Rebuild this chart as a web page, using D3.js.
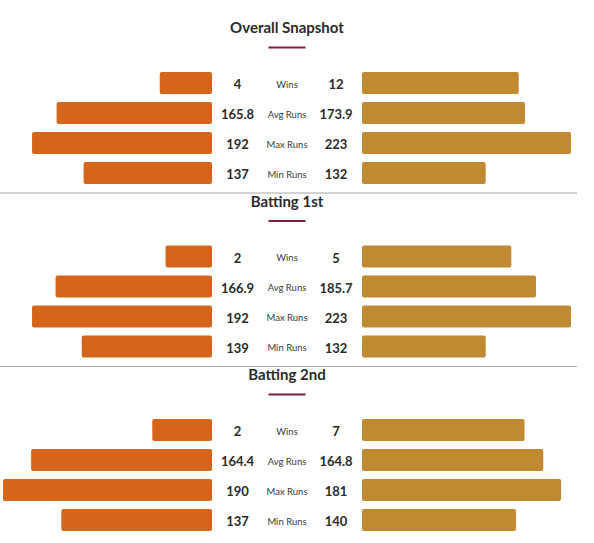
<!DOCTYPE html>
<html>
<head>
<meta charset="utf-8">
<script src="https://cdn.jsdelivr.net/npm/d3@7"></script>
<style>
  body { margin: 0; background: #fff; }
  svg { display: block; font-family: Lato, "Open Sans", sans-serif; }
</style>
</head>
<body>
<div id="chart"></div>
<script>
var sections = ["Overall Snapshot", "Batting 1st", "Batting 2nd"];
var metrics = ["Wins", "Avg Runs", "Max Runs", "Min Runs"];

// per section: wins, avg runs, max runs, min runs
var teamA = [[4, 165.8, 192, 137], [2, 166.9, 192, 139], [2, 164.4, 190, 137]];
var teamB = [[12, 173.9, 223, 132], [5, 185.7, 223, 132], [7, 164.8, 181, 140]];
// matches played, wins bar is drawn as share of these
var matchesA = [16, 9, 7];
var matchesB = [16, 7, 9];

var width = 594;
var height = 543;
var centerX = 287;
var leftEnd = 212;
var rightStart = 362;
var barMax = 209;
var barH = 22;
var rowStep = 30;
var sectionStep = 173.5;
var firstRow = 72;

var colorA = "#d4651a";
var colorB = "#c08a32";

var svg = d3.select("#chart").append("svg")
  .attr("width", width)
  .attr("height", height);

var rowY = d3.scaleBand()
  .domain(metrics)
  .range([0, rowStep * (metrics.length - 1) + barH])
  .paddingInner((rowStep - barH) / rowStep)
  .paddingOuter(0);

sections.forEach(function (name, s) {
  var top = firstRow + s * sectionStep;
  var g = svg.append("g").attr("transform", `translate(0, ${top})`);

  /* divider above every section but the first */
  if (s > 0) {
    svg.append("line")
      .attr("x1", 0).attr("x2", 577)
      .attr("y1", top - 52.5).attr("y2", top - 52.5)
      .style("stroke", "#a8a8a8")
      .style("stroke-width", 1.2);
  }

  g.append("text")
    .attr("x", centerX)
    .attr("y", -45)
    .attr("text-anchor", "middle")
    .attr("dominant-baseline", "central")
    .style("font-size", "15px")
    .style("font-weight", "bold")
    .style("fill", "#2b2b2b")
    .text(name);

  g.append("line")
    .attr("x1", centerX - 18.5).attr("x2", centerX + 18.5)
    .attr("y1", -24.5).attr("y2", -24.5)
    .style("stroke", "#7b1f3f")
    .style("stroke-width", 2);

  var runsMax = d3.max(teamA[s].slice(1).concat(teamB[s].slice(1)));
  var runScale = d3.scaleLinear().domain([0, runsMax]).range([0, barMax]);
  var winScale = d3.scaleLinear().domain([0, 1]).range([0, barMax]);

  var rows = metrics.map(function (m, i) {
    return {
      metric: m,
      a: teamA[s][i],
      b: teamB[s][i],
      wa: i === 0 ? winScale(teamA[s][i] / matchesA[s]) : runScale(teamA[s][i]),
      wb: i === 0 ? winScale(teamB[s][i] / matchesB[s]) : runScale(teamB[s][i])
    };
  });

  var row = g.selectAll(".row")
    .data(rows).enter()
    .append("g")
    .attr("class", "row")
    .attr("transform", d => `translate(0, ${rowY(d.metric)})`);

  row.append("rect")
    .attr("x", d => leftEnd - d.wa)
    .attr("width", d => d.wa)
    .attr("height", rowY.bandwidth())
    .attr("rx", 2)
    .style("fill", colorA);

  row.append("rect")
    .attr("x", rightStart)
    .attr("width", d => d.wb)
    .attr("height", rowY.bandwidth())
    .attr("rx", 2)
    .style("fill", colorB);

  row.append("text")
    .attr("x", 237.5)
    .attr("y", rowY.bandwidth() / 2 + 1)
    .attr("text-anchor", "middle")
    .attr("dominant-baseline", "central")
    .style("font-size", "13px")
    .style("font-weight", "bold")
    .style("fill", "#2b2b2b")
    .text(d => d.a);

  row.append("text")
    .attr("x", 336)
    .attr("y", rowY.bandwidth() / 2 + 1)
    .attr("text-anchor", "middle")
    .attr("dominant-baseline", "central")
    .style("font-size", "13px")
    .style("font-weight", "bold")
    .style("fill", "#2b2b2b")
    .text(d => d.b);

  row.append("text")
    .attr("x", centerX)
    .attr("y", rowY.bandwidth() / 2 + 1)
    .attr("text-anchor", "middle")
    .attr("dominant-baseline", "central")
    .style("font-size", "9.5px")
    .style("fill", "#3a3a3a")
    .text(d => d.metric);
});
</script>
</body>
</html>
